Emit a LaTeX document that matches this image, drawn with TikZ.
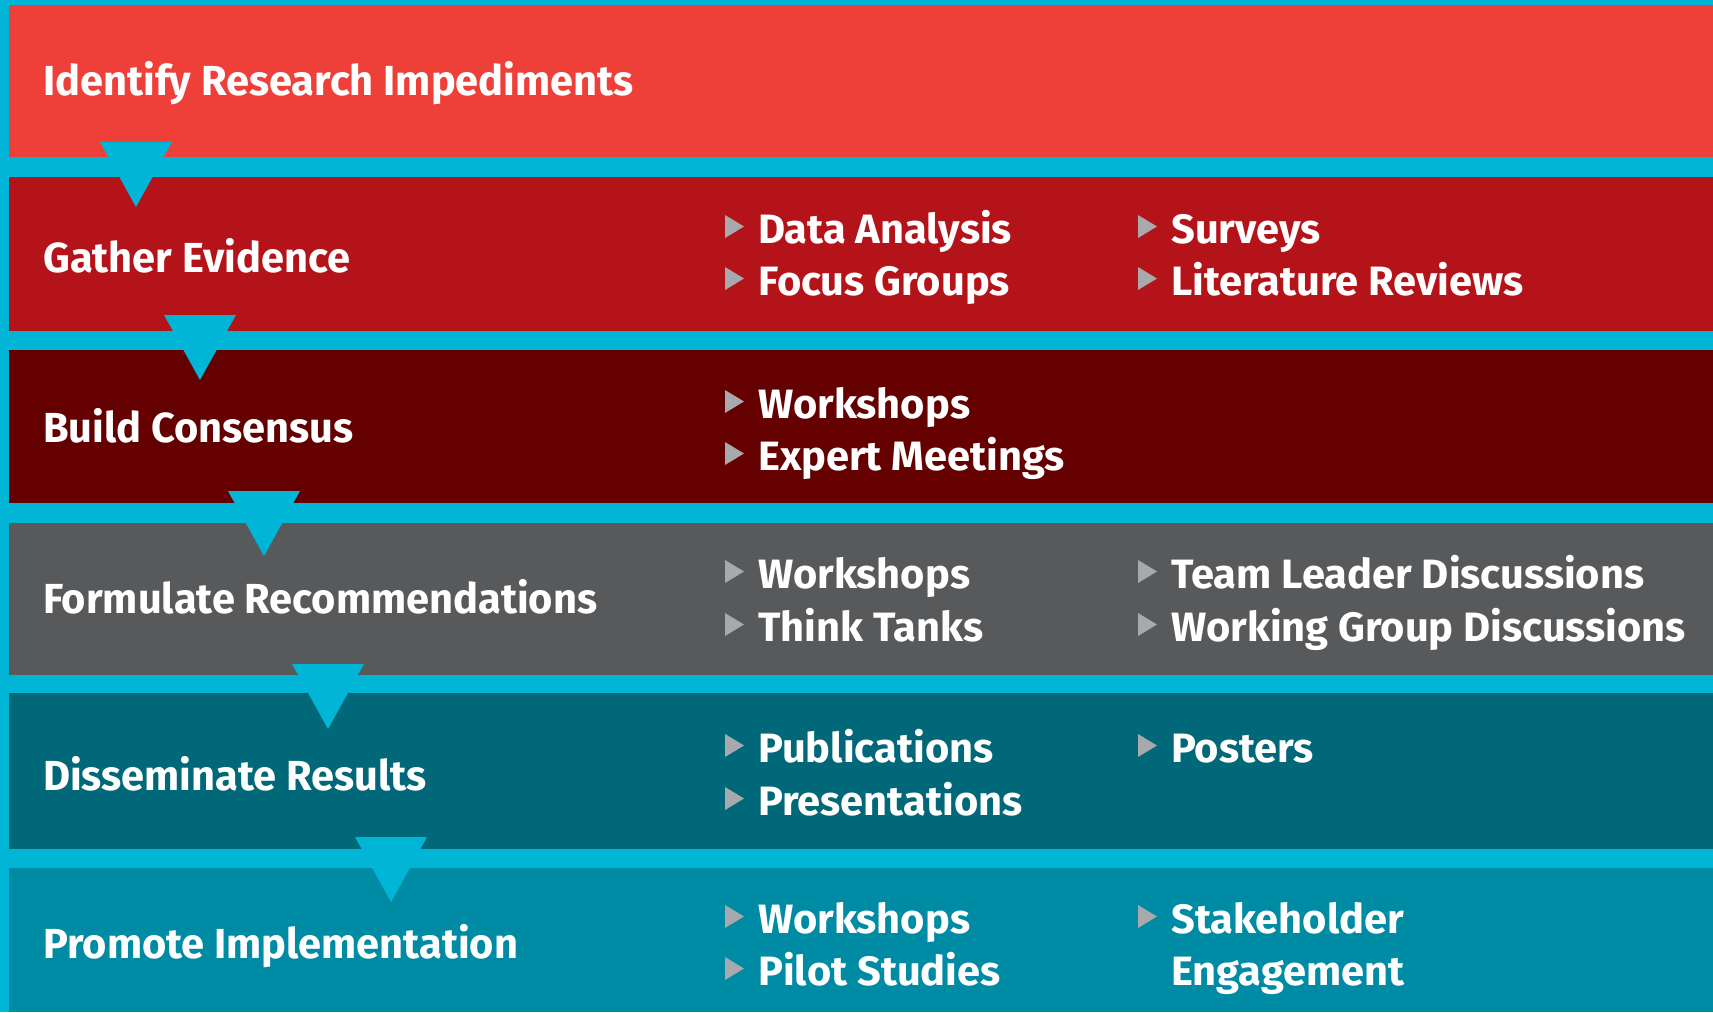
\documentclass[tikz,border=0pt]{standalone}
\usepackage{fontspec}
\setmainfont{Fira Sans}
\newfontfamily\titlefont[FakeStretch=0.99]{Fira Sans}
\newfontfamily\itemfont[FakeStretch=1.015]{Fira Sans}
\usetikzlibrary{calc}
\definecolor{cyanbg}{RGB}{0,181,213}
\definecolor{bandA}{RGB}{238,64,57}
\definecolor{bandB}{RGB}{181,19,26}
\definecolor{bandC}{RGB}{100,0,0}
\definecolor{bandD}{RGB}{88,89,91}
\definecolor{bandE}{RGB}{0,104,120}
\definecolor{bandF}{RGB}{0,139,165}
\definecolor{bulletc}{RGB}{167,169,172}
\newcommand\bitem[4]{%
  \node[itemtext] (#1) at (#2,#3) {#4};
  \fill[bulletc] ($(#1.base west)+(-33,-28)$) -- ($(#1.base west)+(-14,-16.5)$) -- ($(#1.base west)+(-33,-5)$) -- cycle;
}
\newcommand\stepdown[3]{% center x, top y, name
  \coordinate (#3) at (#1,#2);
  \fill[cyanbg] ($(#3)+(-36,0)$) -- ($(#3)+(36,0)$) -- ($(#3)+(0,65)$) -- cycle;
}
\begin{document}
\begin{tikzpicture}[x=1pt,y=-1pt,
  bandbox/.style={fill=#1,draw=none},
  title/.style={anchor=base west,inner sep=0pt,text=white,font=\titlefont\fontsize{42}{50}\selectfont\bfseries},
  itemtext/.style={anchor=base west,inner sep=0pt,text=white,font=\itemfont\fontsize{41}{50}\selectfont\bfseries}]
\fill[cyanbg] (0,0) rectangle (1713,1012);
\useasboundingbox (0,0) rectangle (1713,1012);
% bands
\fill[bandbox=bandA] (8.5,5) rectangle (1713,157);
\fill[bandbox=bandB] (8.5,177) rectangle (1713,331);
\fill[bandbox=bandC] (8.5,350) rectangle (1713,503);
\fill[bandbox=bandD] (8.5,523) rectangle (1713,675);
\fill[bandbox=bandE] (8.5,693) rectangle (1713,849);
\fill[bandbox=bandF] (8.5,868) rectangle (1713,1012);
% step arrows
\stepdown{136}{142}{s1}
\stepdown{200}{315}{s2}
\stepdown{264}{491}{s3}
\stepdown{328}{664}{s4}
\stepdown{391}{837}{s5}
% titles
\node[title] (t1) at (43,95) {Identify Research Impediments};
\node[title] (t2) at (43,272) {Gather Evidence};
\node[title] (t3) at (43,442) {Build Consensus};
\node[title] (t4) at (43,613) {Formulate Recommendations};
\node[title] (t5) at (43,790) {Disseminate Results};
\node[title] (t6) at (43,958) {Promote Implementation};
% items
\bitem{i21}{758}{243}{Data Analysis}
\bitem{i22}{758}{295}{Focus Groups}
\bitem{i23}{1171}{243}{Surveys}
\bitem{i24}{1171}{295}{Literature Reviews}
\bitem{i31}{758}{418}{Workshops}
\bitem{i32}{758}{470}{Expert Meetings}
\bitem{i41}{758}{588}{Workshops}
\bitem{i42}{758}{641}{Think Tanks}
\bitem{i43}{1171}{588}{Team Leader Discussions}
\bitem{i44}{1171}{641}{Working Group Discussions}
\bitem{i51}{758}{762}{Publications}
\bitem{i52}{758}{815}{Presentations}
\bitem{i53}{1171}{762}{Posters}
\bitem{i61}{758}{933}{Workshops}
\bitem{i62}{758}{985}{Pilot Studies}
\bitem{i63}{1171}{933}{Stakeholder}
\node[itemtext] (i64) at (1171,985) {Engagement};
\end{tikzpicture}
\end{document}
